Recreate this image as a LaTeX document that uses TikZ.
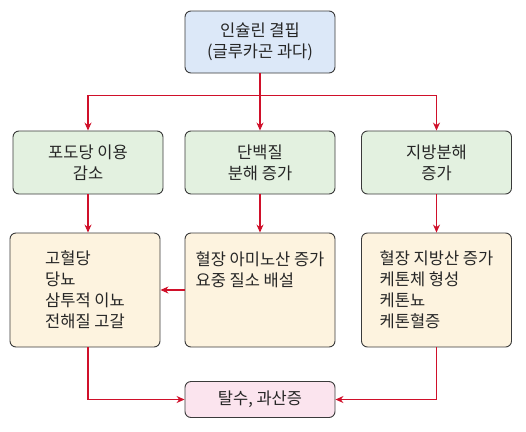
\documentclass[tikz,border=0pt]{standalone}
\usepackage{fontspec}
\setmainfont{Noto Sans CJK KR}
\usetikzlibrary{arrows.meta}
\definecolor{boxline}{HTML}{3A3A3A}
\definecolor{arrred}{HTML}{D0102A}
\definecolor{topfill}{HTML}{DCE8F8}
\definecolor{midfill}{HTML}{E3F1E0}
\definecolor{lowfill}{HTML}{FDF3DF}
\definecolor{endfill}{HTML}{FBE4EE}

\begin{document}
\begin{tikzpicture}
		[x=1pt, y=1pt, node distance={120pt},
		main/.style = {draw=boxline, line width=0.9pt, rounded corners=6pt, minimum width=150pt, inner xsep=2pt, align=center, text=black!85, font=\fontsize{16.5}{21}\selectfont},
		list/.style = {main, align=left, minimum height=114pt},
		arr/.style = {draw=arrred, line width=1.1pt, -{Stealth[length=8pt, width=7pt]}}]
	\useasboundingbox (0,0) rectangle (526,-431);
	\node[main, fill=topfill, minimum height=62pt] (1) at (260,-42) {인슐린 결핍\\(글루카곤 과다)};
	\node[main, fill=midfill, minimum height=63pt] (3) [below of = 1, node distance=120.5pt] {단백질\\분해 증가};
	\node[main, fill=midfill, minimum height=63pt] (2) [left of = 3, node distance=172pt] {포도당 이용\\감소};
	\node[main, fill=midfill, minimum height=63pt] (4) [right of = 3, node distance=176.5pt] {지방분해\\증가};
	\node[list, fill=lowfill] (5) [below of = 2, node distance=127.5pt, xshift=-3pt] {고혈당\\당뇨\\삼투적 이뇨\\전해질 고갈};
	\node[list, fill=lowfill] (6) [below of = 3, node distance=127.5pt] {혈장 아미노산 증가\\요중 질소 배설\\~\\~};
	\node[list, fill=lowfill] (7) [below of = 4, node distance=127.5pt] {혈장 지방산 증가\\케톤체 형성\\케톤뇨\\케톤혈증};
	\node[main, fill=endfill, minimum height=36pt] (8) [below of = 6, node distance=109.5pt] {탈수, 과산증};
	\draw[arr] (1) -- (3);
	\draw[arr] (1.south) -- ++(0,-22pt) -| (2);
	\draw[arr] (1.south) -- ++(0,-22pt) -| (4);
	\draw[arr] (2) -- (2 |- 5.north);
	\draw[arr] (3) -- (6);
	\draw[arr] (4) -- (7);
	\draw[arr] (6) -- (5);
	\draw[arr] (5.south -| 2) |- (8);
	\draw[arr] (7) |- (8);
	\end{tikzpicture}
\end{document}
